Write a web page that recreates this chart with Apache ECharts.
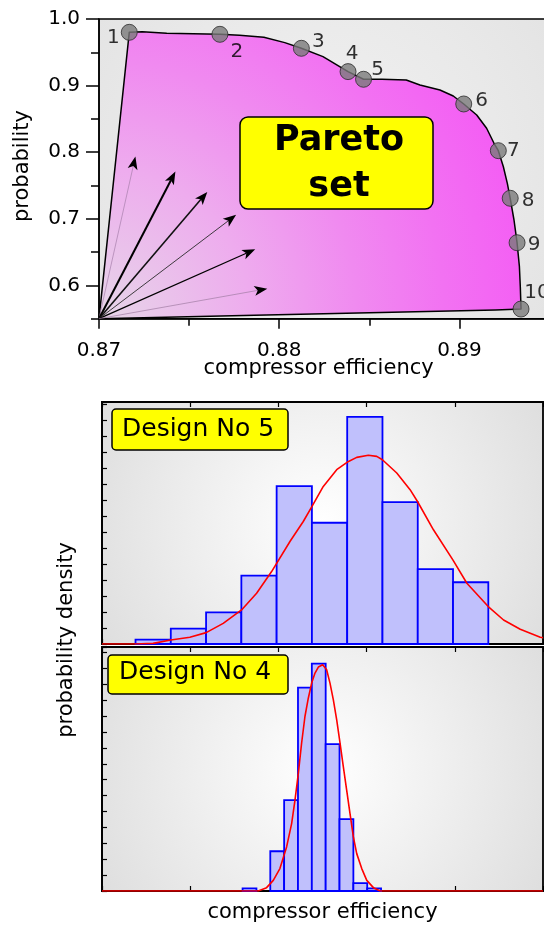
<!DOCTYPE html>
<html><head><meta charset="utf-8">
<script src="https://cdn.jsdelivr.net/npm/echarts@6/dist/echarts.min.js"></script>
<style>html,body{margin:0;padding:0;background:#fff}#c{width:544px;height:926px}</style>
</head><body><div id="c"></div>
<script>
const FONT = '"DejaVu Sans", sans-serif';

// ---- Top chart: Pareto set ----
const designLabels = ['1','2','3','4','5','6','7','8','9','10'];
const designEff  = [0.87168, 0.87671, 0.88123, 0.88382, 0.88468, 0.89024, 0.89216, 0.89282, 0.89320, 0.89342];
const designProb = [0.980, 0.977, 0.956, 0.921, 0.9095, 0.8724, 0.8023, 0.7308, 0.6641, 0.5645];

// outline of the Pareto region, read along the drawn boundary
const boundaryEff  = [0.87, 0.87168, 0.87241, 0.87376, 0.87671, 0.87780, 0.87915, 0.88031, 0.88123, 0.88243, 0.88382, 0.88468, 0.88570, 0.88705, 0.88781, 0.88892, 0.88966, 0.89024, 0.89096, 0.89151, 0.89192, 0.89216, 0.89244, 0.89266, 0.89282, 0.89303, 0.89320, 0.89333, 0.89338, 0.89342, 0.89200, 0.88500, 0.87800];
const boundaryProb = [0.55, 0.980, 0.981, 0.9785, 0.977, 0.9755, 0.9725, 0.9645, 0.956, 0.9435, 0.921, 0.9095, 0.9095, 0.9085, 0.9009, 0.8934, 0.8844, 0.8724, 0.8559, 0.8359, 0.8134, 0.8023, 0.7782, 0.7533, 0.7308, 0.6982, 0.6641, 0.6281, 0.598, 0.5645, 0.5632, 0.5590, 0.5548];

// direction arrows fanning out of the corner
const fanOrigin = [0.87, 0.55];
const arrowTipEff  = [0.87202, 0.87424, 0.87601, 0.87761, 0.87867, 0.87934];
const arrowTipProb = [0.7935, 0.771, 0.7404, 0.7059, 0.6542, 0.5951];

// ---- Bottom charts: histograms (arbitrary efficiency units, axis 0..5) ----
const d5Edges  = [0.38, 0.78, 1.18, 1.58, 1.98, 2.38, 2.78, 3.18, 3.58, 3.98, 4.38];
const d5Counts = [0.27, 0.96, 1.98, 4.28, 9.87, 7.58, 14.2, 8.87, 4.68, 3.86];
const d5CurveX = [0, 0.379, 0.579, 0.780, 0.996, 1.181, 1.374, 1.582, 1.753, 1.923, 2.131, 2.282, 2.381, 2.509, 2.661, 2.778, 2.888, 3.020, 3.115, 3.179, 3.342, 3.493, 3.577, 3.758, 3.978, 4.137, 4.379, 4.553, 4.742, 4.969, 5.0];
const d5CurveY = [0, 0, 0.04, 0.25, 0.42, 0.71, 1.29, 2.13, 3.17, 4.53, 6.41, 7.66, 8.60, 9.85, 10.90, 11.36, 11.67, 11.80, 11.73, 11.52, 10.69, 9.65, 8.91, 7.14, 5.26, 3.80, 2.34, 1.50, 0.92, 0.42, 0.40];

const d4Edges  = [1.594, 1.751, 1.908, 2.065, 2.222, 2.379, 2.536, 2.693, 2.850, 3.007, 3.164];
const d4Counts = [0.17, 0, 2.5, 5.71, 12.79, 14.29, 9.24, 4.52, 0.5, 0.17];
const d4CurveX = [0, 1.771, 1.866, 1.942, 2.017, 2.093, 2.150, 2.188, 2.226, 2.263, 2.301, 2.339, 2.377, 2.415, 2.453, 2.502, 2.547, 2.585, 2.623, 2.661, 2.699, 2.736, 2.774, 2.812, 2.850, 2.888, 2.945, 3.002, 3.077, 3.153, 5.0];
const d4CurveY = [0, 0, 0.21, 0.67, 1.41, 2.77, 4.24, 5.71, 7.39, 9.29, 10.97, 12.12, 13.07, 13.70, 14.08, 14.22, 13.91, 13.07, 12.02, 10.76, 9.29, 7.82, 6.34, 4.87, 3.40, 2.35, 1.41, 0.67, 0.21, 0, 0];

// ---- styles (not data) ----
const labelOffsets = [[-16,5],[17,17],[17,-7],[4,-18],[14,-9],[18,-3],[15,0],[18,3],[17,2],[16,-16]];
const arrowWidths = [0.7, 2.0, 1.6, 0.9, 1.3, 0.7];
const arrowColors = ['#a880ac', '#000', '#111', '#2a2a2a', '#000', '#a07ca4'];

const chart = echarts.init(document.getElementById('c'), null, {renderer: 'canvas'});

const paretoFill = {type: 'radial', x: 0, y: 1, r: 1.5, colorStops: [
  {offset: 0, color: '#e6d6e8'}, {offset: 0.35, color: '#eeacee'},
  {offset: 0.6, color: '#f08af0'}, {offset: 0.8, color: '#f272f2'}, {offset: 1, color: '#f45ef4'}]};
const topBg = {type: 'radial', x: 0.41, y: 0.5, r: 1, colorStops: [
  {offset: 0, color: '#f2f2f2'}, {offset: 0.6, color: '#e9e9e9'}, {offset: 1, color: '#e2e2e2'}]};
const histBg = {type: 'radial', x: 0.5, y: 0.5, r: 1.1, colorStops: [
  {offset: 0, color: '#ffffff'}, {offset: 1, color: '#dcdcdc'}]};

function histAxisX(grid, pos) {
  return {type: 'value', gridIndex: grid, position: pos, min: 0, max: 5, interval: 1,
    axisLine: {show: true, lineStyle: {color: '#000', width: 1.8}},
    axisTick: {show: true, inside: true, length: 5, lineStyle: {color: '#000', width: 1.2}},
    axisLabel: {show: false}, splitLine: {show: false}};
}
function histAxisY(grid, max) {
  return {type: 'value', gridIndex: grid, position: 'left', min: 0, max: max, interval: 1,
    axisLine: {show: true, lineStyle: {color: '#000', width: 1.8}},
    axisTick: {show: true, inside: true, length: 5, lineStyle: {color: '#000', width: 1.2}},
    axisLabel: {show: false}, splitLine: {show: false}};
}
function histSeries(edges, counts, xi, yi) {
  return {type: 'custom', xAxisIndex: xi, yAxisIndex: yi, z: 2,
    encode: {x: [0, 1], y: 2},
    data: counts.map((h, i) => [edges[i], edges[i + 1], h]),
    renderItem: (params, api) => {
      const h = api.value(2);
      if (!(h > 0)) return null;
      const a = api.coord([api.value(0), h]);
      const b = api.coord([api.value(1), 0]);
      return {type: 'rect', shape: {x: a[0], y: a[1], width: b[0] - a[0], height: b[1] - a[1]},
        style: {fill: '#c0c0fc', stroke: '#0000ff', lineWidth: 1.8}};
    }};
}
function curveSeries(xs, ys, xi, yi) {
  return {type: 'line', xAxisIndex: xi, yAxisIndex: yi, z: 4, showSymbol: false, symbol: 'none',
    data: xs.map((x, i) => [x, ys[i]]), lineStyle: {color: '#ff0000', width: 1.6}, animation: false};
}
function labelBox(x, y, w, h, r, text, tx, ty, font) {
  const items = [{type: 'rect', z: 100, shape: {x: x, y: y, width: w, height: h, r: r},
    style: {fill: '#ffff00', stroke: '#000', lineWidth: 1.5}}];
  text.forEach((t, i) => items.push({type: 'text', z: 101, x: tx, y: ty[i],
    style: {text: t, font: font, fill: '#000', align: 'center', verticalAlign: 'middle'}}));
  return items;
}

const option = {
  animation: false,
  grid: [
    {left: 99, top: 19, width: 540.6, height: 299.7, show: true, borderColor: '#000', borderWidth: 1.5, backgroundColor: topBg, outerBoundsMode: 'none', containLabel: false},
    {left: 102, top: 402, width: 441, height: 242, show: true, borderColor: '#000', borderWidth: 1.8, backgroundColor: histBg, outerBoundsMode: 'none', containLabel: false},
    {left: 102, top: 647, width: 441, height: 244, show: true, borderColor: '#000', borderWidth: 1.8, backgroundColor: histBg, outerBoundsMode: 'none', containLabel: false}
  ],
  xAxis: [
    {type: 'value', gridIndex: 0, position: 'bottom', min: 0.87, max: 0.90, interval: 0.01,
      axisLine: {show: true, lineStyle: {color: '#000', width: 1.5}},
      axisTick: {show: true, length: 10, lineStyle: {color: '#000', width: 1.5}},
      minorTick: {show: true, splitNumber: 2, length: 7, lineStyle: {color: '#000', width: 1.5}},
      axisLabel: {margin: 22, fontFamily: FONT, fontSize: 20, color: '#000', formatter: v => v.toFixed(2)},
      splitLine: {show: false}},
    histAxisX(1, 'bottom'), histAxisX(1, 'top'),
    histAxisX(2, 'bottom'), histAxisX(2, 'top')
  ],
  yAxis: [
    {type: 'value', gridIndex: 0, position: 'left', min: 0.55, max: 1.0, interval: 0.05,
      axisLine: {show: false}, axisLabel: {show: false}, splitLine: {show: false},
      axisTick: {show: true, length: 8, lineStyle: {color: '#000', width: 1.5}}},
    {type: 'value', gridIndex: 0, position: 'left', min: 0.55, max: 1.0, splitNumber: 5,
      axisLine: {show: true, lineStyle: {color: '#000', width: 1.5}},
      axisTick: {show: true, length: 13, lineStyle: {color: '#000', width: 1.5}},
      axisLabel: {margin: 19, fontFamily: FONT, fontSize: 20, color: '#000', showMinLabel: false, formatter: v => v.toFixed(1)},
      splitLine: {show: false}},
    histAxisY(1, 15.13),
    histAxisY(2, 15.34)
  ],
  graphic: [].concat(
    labelBox(240, 117, 193, 92, 8, ['Pareto', 'set'], 339, [141, 187], 'bold 35px ' + FONT),
    [{type: 'rect', z: 100, shape: {x: 112, y: 409, width: 176, height: 41, r: 4},
        style: {fill: '#ffff00', stroke: '#000', lineWidth: 1.5}},
     {type: 'text', z: 101, x: 122, y: 429, style: {text: 'Design No 5', font: '25px ' + FONT, fill: '#000', align: 'left', verticalAlign: 'middle'}},
     {type: 'rect', z: 100, shape: {x: 108, y: 655, width: 180, height: 39, r: 4},
        style: {fill: '#ffff00', stroke: '#000', lineWidth: 1.5}},
     {type: 'text', z: 101, x: 119, y: 672.5, style: {text: 'Design No 4', font: '25px ' + FONT, fill: '#000', align: 'left', verticalAlign: 'middle'}},
     {type: 'text', z: 100, x: 318.6, y: 369, style: {text: 'compressor efficiency', font: '21px ' + FONT, fill: '#000', align: 'center', verticalAlign: 'middle'}},
     {type: 'text', z: 100, x: 22.5, y: 166, rotation: Math.PI / 2, style: {text: 'probability', font: '21px ' + FONT, fill: '#000', align: 'center', verticalAlign: 'middle'}},
     {type: 'text', z: 100, x: 322.5, y: 913, style: {text: 'compressor efficiency', font: '21px ' + FONT, fill: '#000', align: 'center', verticalAlign: 'middle'}},
     {type: 'text', z: 100, x: 67, y: 640, rotation: Math.PI / 2, style: {text: 'probability density', font: '21px ' + FONT, fill: '#000', align: 'center', verticalAlign: 'middle'}}]
  ),
  series: [
    {type: 'custom', xAxisIndex: 0, yAxisIndex: 1, z: 2, data: [fanOrigin],
      renderItem: (params, api) => {
        const pts = boundaryEff.map((x, i) => api.coord([x, boundaryProb[i]]));
        return {type: 'polygon', shape: {points: pts},
          style: {fill: paretoFill, stroke: '#000', lineWidth: 1.5, lineJoin: 'round'}};
      }},
    {type: 'custom', xAxisIndex: 0, yAxisIndex: 1, z: 3,
      data: arrowTipEff.map((x, i) => [x, arrowTipProb[i]]),
      renderItem: (params, api) => {
        const i = params.dataIndex;
        const p0 = api.coord(fanOrigin);
        const p1 = api.coord([api.value(0), api.value(1)]);
        const dx = p1[0] - p0[0], dy = p1[1] - p0[1];
        const len = Math.sqrt(dx * dx + dy * dy);
        const ux = dx / len, uy = dy / len, nx = -uy, ny = ux;
        const L = 13, W = 5;
        const bx = p1[0] - ux * L, by = p1[1] - uy * L;
        const nxp = p1[0] - ux * L * 0.75, nyp = p1[1] - uy * L * 0.75;
        return {type: 'group', children: [
          {type: 'line', shape: {x1: p0[0], y1: p0[1], x2: nxp, y2: nyp},
            style: {stroke: arrowColors[i], lineWidth: arrowWidths[i]}},
          {type: 'polygon', shape: {points: [[p1[0], p1[1]], [bx + nx * W, by + ny * W], [nxp, nyp], [bx - nx * W, by - ny * W]]},
            style: {fill: '#000'}}
        ]};
      }},
    {type: 'scatter', xAxisIndex: 0, yAxisIndex: 1, z: 60, symbol: 'circle', symbolSize: 16,
      itemStyle: {color: '#7a7a7a', borderColor: '#2a2a2a', borderWidth: 1},
      label: {show: true, position: 'inside', formatter: p => p.name, fontFamily: FONT, fontSize: 20, color: '#000', textBorderWidth: 0},
      data: designEff.map((x, i) => ({name: designLabels[i], value: [x, designProb[i]], label: {offset: labelOffsets[i]}}))},
    histSeries(d5Edges, d5Counts, 1, 2),
    curveSeries(d5CurveX, d5CurveY, 1, 2),
    histSeries(d4Edges, d4Counts, 3, 3),
    curveSeries(d4CurveX, d4CurveY, 3, 3)
  ]
};
chart.setOption(option);
</script>
</body></html>
